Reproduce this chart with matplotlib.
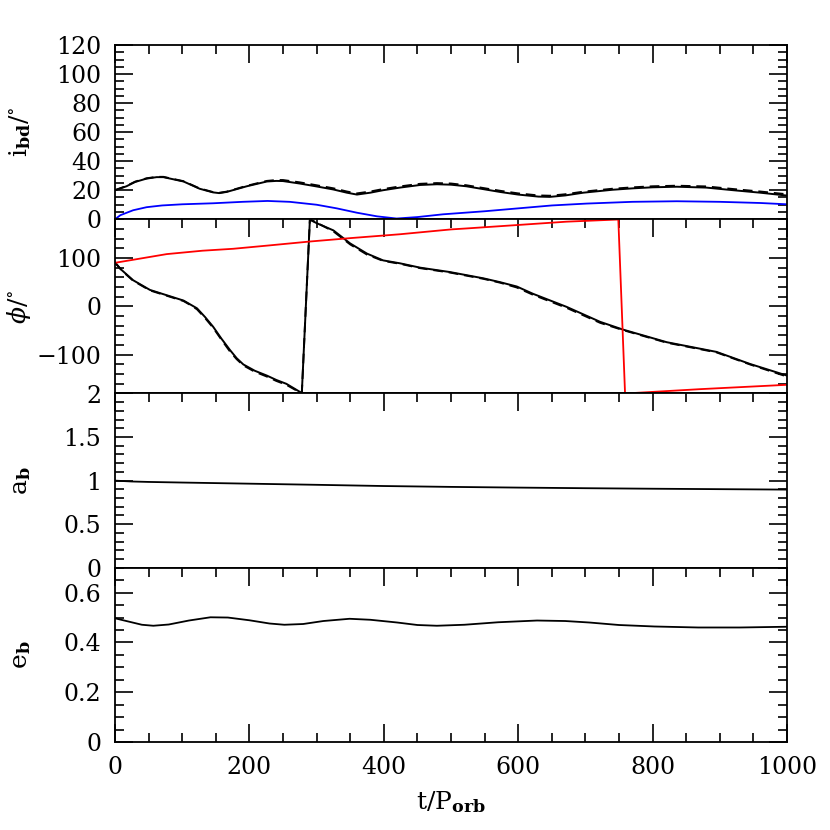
import matplotlib
matplotlib.use("Agg")
import matplotlib.pyplot as plt
from matplotlib.ticker import MultipleLocator, FuncFormatter

# ---------------- data ----------------
# top panel: inclination i_bd (deg)
t_inc = [0, 17, 30, 47, 62, 72, 102, 126, 146, 155, 166, 196, 226, 240, 250, 275, 300, 325, 345, 360,
         380, 399, 424, 454, 479, 500, 523, 573, 600, 630, 647, 670, 697, 740, 771, 800, 836, 880, 920, 960, 1000]
inc_solid = [20, 22.7, 25.7, 28, 29, 29, 26, 21, 18.5, 18.0, 18.8, 22.7, 26, 26.4, 26.3, 24.6, 22.6, 20.5, 18.3, 17,
             18.3, 20, 21.8, 23.6, 24.1, 23.8, 22.7, 18.8, 17.0, 15.6, 15.4, 16.4, 18.3, 20.3, 21.3, 22.0, 22.4, 21.8, 20, 18.3, 16.3]
inc_dashed = [20, 22.9, 25.9, 28.2, 29.2, 29.2, 26.2, 21.2, 18.7, 18.2, 19.0, 23.0, 26.4, 27.0, 27.0, 25.4, 23.4, 21.3, 19.1, 17.8,
              19.1, 20.8, 22.6, 24.4, 24.9, 24.6, 23.4, 19.6, 17.8, 16.4, 16.2, 17.2, 19.0, 21.0, 22.0, 22.7, 23.1, 22.6, 20.8, 19.1, 17.2]
t_inc_b = [0, 8, 27, 47, 70, 100, 146, 190, 227, 260, 300, 330, 360, 390, 419, 450,
           488, 550, 600, 650, 702, 770, 836, 900, 960, 1000]
inc_blue = [0, 2.8, 6.2, 8.3, 9.5, 10.3, 11, 12, 12.6, 12, 10, 7.5, 4.5, 2, 0.5, 1.5,
            3.4, 5.5, 7.5, 9.5, 10.8, 12, 12.4, 12, 11.2, 10.3]

# second panel: phi (deg)
t_phi = [0, 10, 27, 52, 77, 102, 112, 122, 134, 146, 158, 171, 181, 191, 208, 226, 240, 255, 278,
         290, 300, 325, 350, 375, 399, 424, 454, 498, 548, 573, 598, 622, 672, 722, 756, 821, 895, 945, 1000]
phi_solid = [90, 75, 54, 34, 23, 12, 4, -4, -22, -42, -66, -90, -107, -120, -133, -143, -152, -160, -179,
             179, 172, 157, 130, 109, 95, 89, 80, 71, 58, 50, 41, 26, -1, -32, -48, -74, -94, -119, -143]
phi_dashed = [91, 74, 53, 33, 22, 11, 3, -6, -24, -44, -68, -93, -109, -122, -135, -145, -154, -162, -180,
              180, 173, 155, 128, 107, 94, 88, 79, 70, 57, 49, 39, 24, -3, -34, -49, -75, -95, -120, -145]
t_phi_r = [0, 30, 77, 130, 176, 230, 290, 350, 424, 500, 523, 598, 672, 749, 759, 871, 1000]
phi_red = [90, 97, 108, 115, 119, 126, 134, 141, 149, 159, 161, 168, 175, 179.5, -180, -171, -162]

# third panel: a_b
t_a = [0, 25, 50, 100, 200, 300, 400, 500, 600, 700, 800, 900, 1000]
a_b = [1.0, 0.99, 0.985, 0.978, 0.965, 0.952, 0.938, 0.928, 0.92, 0.913, 0.907, 0.902, 0.897]

# bottom panel: e_b
t_e = [0, 20, 40, 57, 80, 110, 142, 168, 200, 230, 252, 280, 310, 349, 380, 420, 450, 479,
       520, 570, 628, 670, 706, 750, 803, 868, 930, 1000]
e_b = [0.497, 0.484, 0.471, 0.467, 0.472, 0.488, 0.501, 0.500, 0.489, 0.476, 0.471, 0.474, 0.486,
       0.495, 0.491, 0.480, 0.470, 0.467, 0.471, 0.481, 0.488, 0.486, 0.480, 0.470, 0.464, 0.460,
       0.460, 0.463]

# ---------------- style ----------------
plt.rcParams['font.family'] = ['DejaVu Serif']
plt.rcParams['mathtext.fontset'] = 'dejavuserif'
plt.rcParams['font.size'] = 17

fig = plt.figure(figsize=(8.3, 8.3), dpi=100)
gs = fig.add_gridspec(4, 1, left=115/830, right=787/830, top=1-45/830, bottom=1-742/830, hspace=0)
axes = [fig.add_subplot(gs[i]) for i in range(4)]

fmt = FuncFormatter(lambda v, p: ('%g' % v).replace('-', '\u2212'))

for i, ax in enumerate(axes):
    ax.set_xlim(0, 1000)
    ax.xaxis.set_major_locator(MultipleLocator(200))
    ax.xaxis.set_minor_locator(MultipleLocator(50))
    ax.tick_params(which='both', direction='in', top=True, right=True,
                   bottom=(i == 3), labelbottom=(i == 3), width=1.2, labelsize=17, pad=10)
    ax.tick_params(which='major', length=13)
    ax.tick_params(which='minor', length=6.5)
    ax.yaxis.set_major_formatter(fmt)
    for s in ax.spines.values():
        s.set_linewidth(1.3)

lw = 1.4
ax = axes[0]
ax.plot(t_inc, inc_solid, color='black', lw=lw)
ax.plot(t_inc, inc_dashed, color='black', lw=lw, ls=(0, (5, 3)))
ax.plot(t_inc_b, inc_blue, color='blue', lw=1.3)
ax.set_ylim(0, 120)
ax.yaxis.set_major_locator(MultipleLocator(20))
ax.yaxis.set_minor_locator(MultipleLocator(5))
ax.set_ylabel(r'$\mathregular{i}_{\mathbf{bd}}/^{\circ}$', fontsize=18)

ax = axes[1]
ax.plot(t_phi, phi_solid, color='black', lw=lw)
ax.plot(t_phi, phi_dashed, color='black', lw=lw, ls=(0, (5, 3)))
ax.plot(t_phi_r, phi_red, color='red', lw=1.3)
ax.set_ylim(-180, 180)
ax.yaxis.set_major_locator(MultipleLocator(100))
ax.yaxis.set_minor_locator(MultipleLocator(20))
ax.set_ylabel(r'$\phi/^{\circ}$', fontsize=18)

ax = axes[2]
ax.plot(t_a, a_b, color='black', lw=1.3)
ax.set_ylim(0, 2)
ax.yaxis.set_major_locator(MultipleLocator(0.5))
ax.yaxis.set_minor_locator(MultipleLocator(0.1))
ax.set_ylabel(r'$\mathregular{a}_{\mathbf{b}}$', fontsize=18)

ax = axes[3]
ax.plot(t_e, e_b, color='black', lw=1.3)
ax.set_ylim(0, 0.7)
ax.yaxis.set_major_locator(MultipleLocator(0.2))
ax.yaxis.set_minor_locator(MultipleLocator(0.05))
ax.set_ylabel(r'$\mathregular{e}_{\mathbf{b}}$', fontsize=18)
ax.set_xlabel(r'$\mathregular{t/P}_{\mathbf{orb}}$', fontsize=18)

for ax in axes:
    ax.yaxis.set_label_coords(-0.122, 0.5)
axes[3].xaxis.set_label_coords(0.5, -0.27)

fig.savefig('out.png', dpi=100)
